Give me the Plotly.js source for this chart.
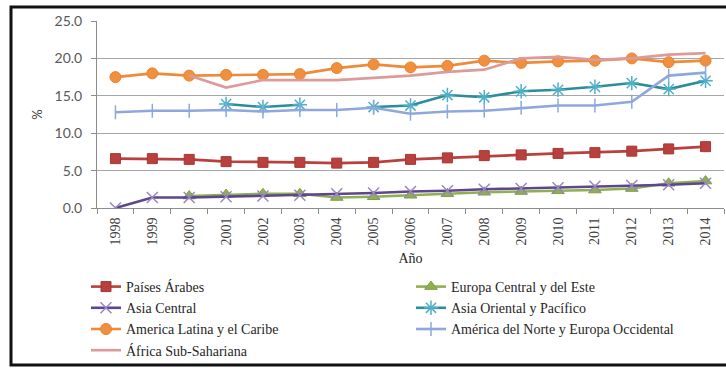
<!DOCTYPE html>
<html>
<head>
<meta charset="utf-8">
<script src="https://cdn.plot.ly/plotly-3.0.1.min.js"></script>
<style>
  html, body { margin: 0; padding: 0; background: #ffffff; }
  #chart { width: 726px; height: 368px; }
</style>
</head>
<body>
<div id="chart"></div>
<script>
// Years on the category axis
const years = ["1998","1999","2000","2001","2002","2003","2004","2005","2006",
               "2007","2008","2009","2010","2011","2012","2013","2014"];

// Share (%) by region, one array per series
const paisesArabes   = [6.6, 6.6, 6.5, 6.2, 6.1, 6.1, 6.0, 6.1, 6.5, 6.7, 7.0, 7.1, 7.3, 7.4, 7.6, 7.9, 8.2];
const europaCentral  = [null, null, 1.6, 1.8, 1.9, 1.9, 1.4, 1.5, 1.7, 1.9, 2.1, 2.2, 2.3, 2.4, 2.6, 3.3, 3.6];
const asiaCentral    = [0.0, 1.4, 1.4, 1.5, 1.6, 1.7, 1.9, 2.0, 2.2, 2.3, 2.5, 2.6, 2.7, 2.9, 3.0, 3.1, 3.3];
const asiaOriental   = [null, null, null, 13.9, 13.5, 13.8, null, 13.5, 13.7, 15.1, 14.8, 15.6, 15.8, 16.2, 16.7, 15.9, 17.0];
const americaLatina  = [17.5, 18.0, 17.7, 17.8, 17.8, 17.9, 18.7, 19.2, 18.8, 19.0, 19.7, 19.4, 19.6, 19.7, 20.0, 19.5, 19.7];
const americaNorte   = [12.8, 13.0, 13.0, 13.1, 12.9, 13.1, 13.1, 13.4, 12.6, 12.9, 13.0, 13.4, 13.7, 13.7, 14.2, 17.7, 18.1];
const africaSub      = [null, null, 17.7, 16.1, 17.1, 17.1, 17.1, 17.4, 17.7, 18.2, 18.5, 20.0, 20.2, 19.8, 20.0, 20.5, 20.7];

const yTicks = [0, 5, 10, 15, 20, 25];

function series(name, y, lineColor, marker, legendId) {
  const t = {
    type: "scatter",
    mode: marker ? "lines+markers" : "lines",
    name: name,
    x: years,
    y: y,
    connectgaps: false,
    line: { color: lineColor, width: 2.6 },
    legend: legendId,
    hoverinfo: "x+y+name"
  };
  if (marker) t.marker = marker;
  return t;
}

const traces = [
  series("Países Árabes", paisesArabes, "#b9403d",
         { symbol: "square", size: 10, color: "#b9403d", line: { color: "#a33936", width: 1 } }, "legend"),
  series("Europa Central y del Este", europaCentral, "#8fb04e",
         { symbol: "triangle-up", size: 11, color: "#8fb04e", line: { color: "#7f9f45", width: 1 } }, "legend2"),
  series("Asia Central", asiaCentral, "#5e4590",
         { symbol: "x-thin-open", size: 11, color: "#9a86c0", line: { color: "#9a86c0", width: 1.5 } }, "legend"),
  series("Asia Oriental y Pacífico", asiaOriental, "#2b8c9c",
         { symbol: "asterisk-open", size: 12, color: "#4fb0c8", line: { color: "#4fb0c8", width: 1.5 } }, "legend2"),
  series("America Latina y el Caribe", americaLatina, "#ee8a3a",
         { symbol: "circle", size: 11, color: "#f08f3e", line: { color: "#e8842f", width: 1 } }, "legend"),
  series("América del Norte y Europa Occidental", americaNorte, "#8ea8dc",
         { symbol: "line-ns-open", size: 10, color: "#8ea8dc", line: { color: "#8ea8dc", width: 1.5 } }, "legend2"),
  series("África Sub-Sahariana", africaSub, "#dd9a9a", null, "legend")
];

// plot area: x 97..724 px, y 21..208 px of a 726 x 368 canvas
const L = 97, R = 2, T = 21, B = 160;
const PW = 726 - L - R, PH = 368 - T - B;
const px = X => (X - L) / PW;          // pixel -> paper x
const py = Y => 1 - (Y - T) / PH;      // pixel -> paper y

const legendStyle = {
  orientation: "v",
  xanchor: "left",
  yanchor: "top",
  itemwidth: 30,
  tracegroupgap: 0,
  font: { family: "Liberation Serif, serif", size: 14, color: "#262626" },
  bgcolor: "rgba(0,0,0,0)"
};

const layout = {
  width: 726,
  height: 368,
  margin: { l: L, r: R, t: T, b: B, pad: 0 },
  paper_bgcolor: "#ffffff",
  plot_bgcolor: "#ffffff",
  showlegend: true,
  xaxis: {
    type: "category",
    range: [-0.5, years.length - 0.5],
    tickangle: -90,
    tickson: "boundaries",
    ticks: "outside",
    ticklen: 5,
    tickcolor: "#8c8c8c",
    ticklabelstandoff: 3,
    showgrid: false,
    showline: true,
    linecolor: "#8c8c8c",
    linewidth: 1,
    zeroline: false,
    tickfont: { family: "Liberation Serif, serif", size: 14, color: "#404040" },
    title: { text: "Año", font: { family: "Liberation Serif, serif", size: 14, color: "#262626" }, standoff: 8 }
  },
  yaxis: {
    range: [0, 25],
    tickvals: yTicks,
    tickformat: ".1f",
    ticks: "outside",
    ticklen: 5,
    tickcolor: "#8c8c8c",
    ticklabelstandoff: 6,
    showgrid: true,
    gridcolor: "#a6a6a6",
    gridwidth: 1,
    showline: true,
    linecolor: "#8c8c8c",
    linewidth: 1,
    zeroline: false,
    tickfont: { family: "Lato, sans-serif", size: 14, color: "#595959" },
    title: { text: "%", font: { family: "Lato, sans-serif", size: 13, color: "#404040" }, standoff: 8 }
  },
  legend:  Object.assign({}, legendStyle, { x: px(86),  y: py(271) }),
  legend2: Object.assign({}, legendStyle, { x: px(411), y: py(271) }),
  shapes: [
    // outer chart frame
    { type: "rect", xref: "paper", yref: "paper",
      x0: px(11), x1: px(740), y0: py(365), y1: py(7),
      line: { color: "#111111", width: 3 }, fillcolor: "rgba(0,0,0,0)", layer: "below" }
  ]
};

Plotly.newPlot("chart", traces, layout, { displayModeBar: false, staticPlot: true });
</script>
</body>
</html>
